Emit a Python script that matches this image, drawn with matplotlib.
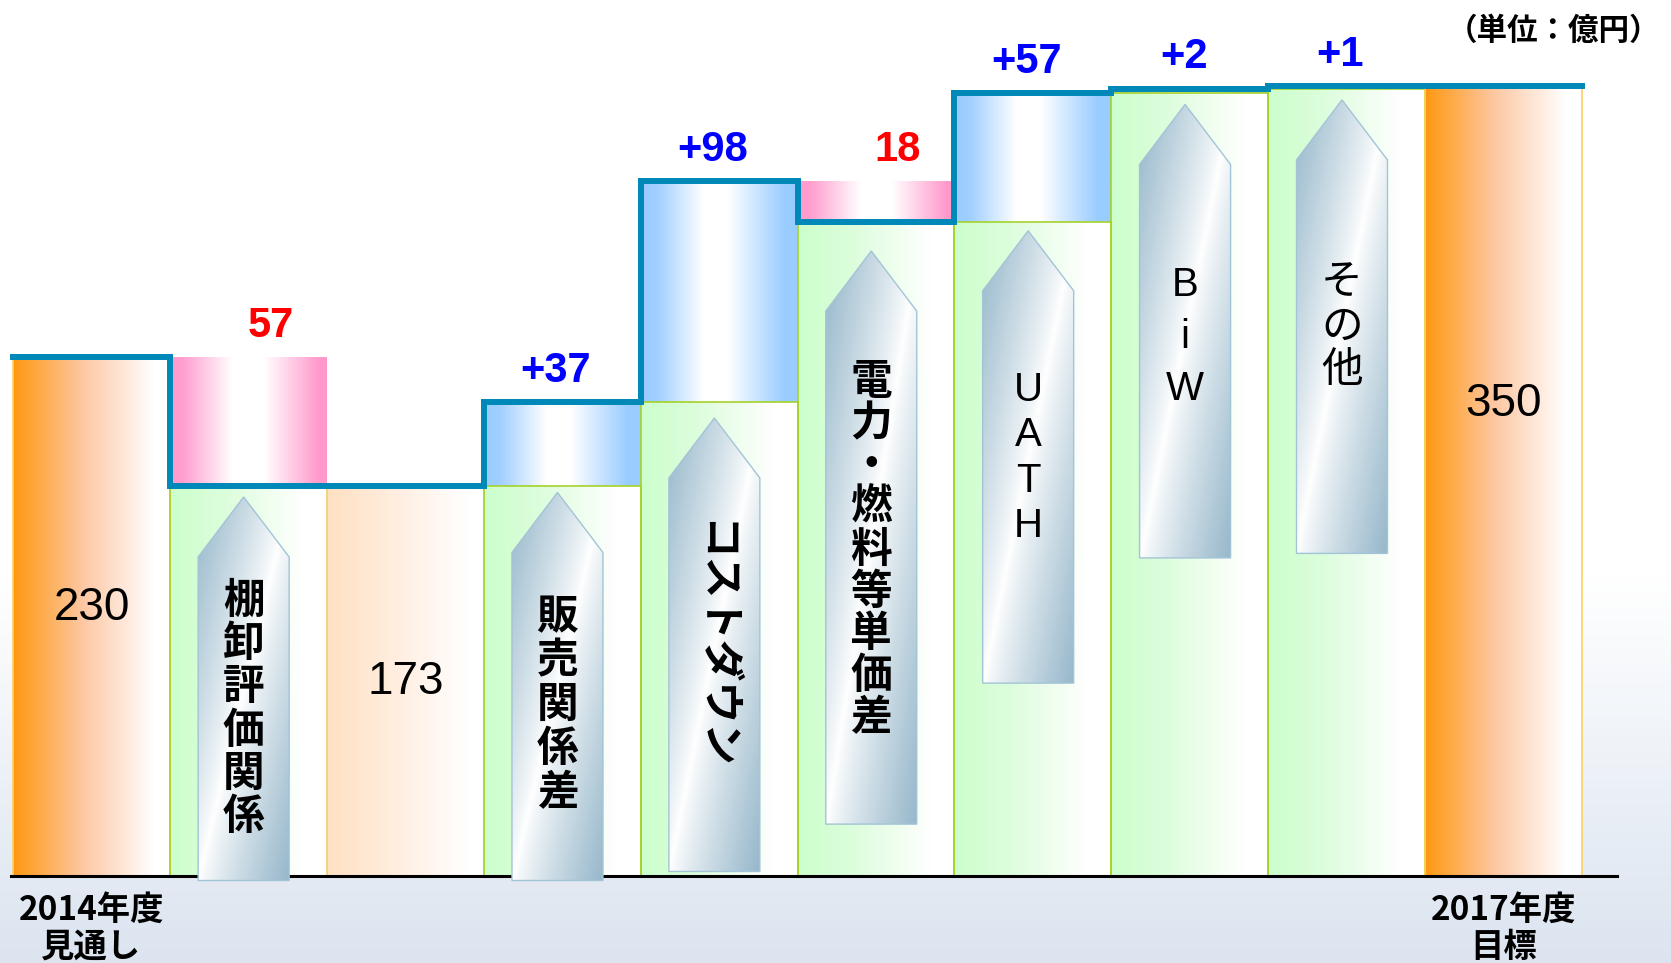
import numpy as np
import matplotlib
matplotlib.use("Agg")
import matplotlib.pyplot as plt
from matplotlib.patches import Polygon, Rectangle
from matplotlib.colors import to_rgb

# chart data (億円)
categories = ["2014年度\n見通し", "棚卸評価関係", "", "販売関係差", "コストダウン",
              "電力・燃料等単価差", "UATH", "BiW", "その他", "2017年度\n目標"]
kinds = ["total", "delta", "total", "delta", "delta", "delta", "delta", "delta", "delta", "total"]
values = [230, -57, 173, 37, 98, -18, 57, 2, 1, 350]
value_labels = ["230", "57", "173", "+37", "+98", "18", "+57", "+2", "+1", "350"]
unit_label = "（単位：億円）"

# layout (data units)
arrow_top = [168, 170, 203, 277, 286, 342, 344]
arrow_bottom = [-2, -2, 2, 23, 85.5, 141, 143]
arrow_text_y = [74, 75.8, 102.4, 144.5, 185.3, 239, 243.4]
arrow_text_weight = ["bold", "bold", "bold", "bold", "normal", "normal", "normal"]
arrow_text_size = [30, 30, 30, 30, 29, 29, 30]
arrow_text_spacing = [1.04, 1.06, 1.0, 1.0, 1.25, 1.46, 1.08]
total_label_y = [121, 88, 211]

CJK = ["Noto Sans CJK JP", "DejaVu Sans"]
LAT = ["Liberation Sans", "DejaVu Sans"]

LINE = "#0088b8"
ORANGE = [(0, "#ff9810"), (0.45, "#fdc8a4"), (0.9, "#ffffff"), (1, "#ffffff")]
PEACH = [(0, "#ffe0c2"), (0.5, "#fff0e4"), (0.9, "#ffffff"), (1, "#ffffff")]
GREEN = [(0, "#ccffcc"), (0.35, "#dcfddc"), (0.85, "#ffffff"), (1, "#ffffff")]
BLUE = [(0, "#99ccff"), (0.1, "#a0cfff"), (0.4, "#ffffff"), (0.55, "#ffffff"), (0.92, "#99ccff"), (1, "#99ccff")]
PINK = [(0, "#ff99cc"), (0.08, "#ff9fcf"), (0.4, "#ffffff"), (0.6, "#ffffff"), (0.95, "#ff99cc"), (1, "#ff99cc")]
ARROW = "#96b7ca"


def grad_colors(stops, n=256):
    t = np.linspace(0, 1, n)
    pos = [s[0] for s in stops]
    cols = np.array([to_rgb(s[1]) for s in stops])
    return np.stack([np.interp(t, pos, cols[:, c]) for c in range(3)], axis=-1)


#horizontal gradient box
def hbox(ax, x0, x1, y0, y1, stops, edge=None, z=1):
    img = grad_colors(stops)[None, :, :]
    ax.imshow(img, extent=(x0, x1, y0, y1), aspect="auto", interpolation="bilinear", zorder=z)
    if edge:
        ax.add_patch(Rectangle((x0, y0), x1 - x0, y1 - y0, fill=False, ec=edge, lw=1.2, zorder=z + 0.1))


#arrow shape with a diagonal gradient
def arrow(ax, xc, top, bottom, z=3):
    hw = 0.29
    sh = top - 26.6
    verts = [(xc - hw, bottom), (xc - hw, sh), (xc, top), (xc + hw, sh), (xc + hw, bottom)]
    poly = Polygon(verts, closed=True, fc="none", ec="#a3c4d6", lw=1.0, zorder=z + 0.1)
    ax.add_patch(poly)
    u = np.linspace(-1, 1, 120)[None, :]
    v = np.linspace(-1, 1, 300)[:, None]
    t = np.clip(np.abs((u + v) / 2), 0, 1) ** 0.85
    blue = np.array(to_rgb(ARROW))
    img = (1 - t[..., None]) * 1.0 + t[..., None] * blue
    im = ax.imshow(img, extent=(xc - hw, xc + hw, bottom, top), aspect="auto",
                   interpolation="bilinear", zorder=z)
    im.set_clip_path(poly)


fig = plt.figure(figsize=(16.71, 9.63), dpi=100)
ax = fig.add_axes([0, 0, 1, 1])
ax.axis("off")

# background
f = np.linspace(0, 1, 200)[:, None]
w = np.clip((f - 0.6) / 0.4, 0, 1)
bottom_col = np.array([0.86, 0.895, 0.94])
bg = (1 - w[..., None]) * 1.0 + w[..., None] * bottom_col
bg = np.repeat(bg, 2, axis=1)
ax.imshow(bg, extent=(0, 1, 0, 1), transform=ax.transAxes, aspect="auto", zorder=0)

# running totals
levels = []
prev = 0
for k, v in zip(kinds, values):
    lvl = v if k == "total" else prev + v
    levels.append(lvl)
    prev = lvl

ai = 0
di = 0
for i, (k, v) in enumerate(zip(kinds, values)):
    x0, x1 = i - 0.5, i + 0.5
    if k == "total":
        stops = PEACH if 0 < i < len(kinds) - 1 else ORANGE
        edge = "#f5d98a" if stops is PEACH else "#ffd060"
        hbox(ax, x0, x1, 0, v, stops, edge=edge)
        ax.text(i, total_label_y[di] - 7.3, value_labels[i], ha="center", va="baseline",
                fontsize=33, family=LAT, color="black", zorder=6)
        di += 1
    else:
        before = levels[i - 1]
        after = levels[i]
        lo, hi = min(before, after), max(before, after)
        hbox(ax, x0, x1, 0, lo, GREEN, edge="#a6d22a")
        hbox(ax, x0, x1, lo, hi, BLUE if v > 0 else PINK)
        xc = i - 0.03
        arrow(ax, xc, arrow_top[ai], arrow_bottom[ai])
        if categories[i] == "コストダウン":
            ax.text(xc, arrow_text_y[ai], categories[i], rotation=-90, ha="center", va="center",
                    fontsize=arrow_text_size[ai], family=CJK, weight=arrow_text_weight[ai], zorder=6)
        else:
            fam = LAT if categories[i].isascii() else CJK
            ax.text(xc, arrow_text_y[ai], "\n".join(categories[i]), ha="center", va="center",
                    fontsize=arrow_text_size[ai], family=fam, weight=arrow_text_weight[ai],
                    linespacing=arrow_text_spacing[ai], zorder=6)
        ai += 1
        dx = 0.14 if v < 0 else -0.04
        ax.text(i + dx, hi + 9, value_labels[i], ha="center", va="baseline", fontsize=30,
                family=LAT, weight="bold", color="blue" if v > 0 else "red", zorder=6)

# baseline and step line
ax.plot([-0.51, 9.72], [0, 0], color="black", lw=2.2, zorder=2)
xs, ys = [], []
for i, lvl in enumerate(levels):
    xs += [i - 0.5, i + 0.5]
    ys += [lvl, lvl]
ax.plot(xs, ys, color=LINE, lw=4.3, solid_capstyle="projecting", solid_joinstyle="miter", zorder=4)

# category labels under the total bars
for i in [0, len(categories) - 1]:
    ax.text(i, -8.0, categories[i], ha="center", va="top", fontsize=24, family=CJK,
            weight="bold", linespacing=1.15, zorder=6)

ax.text(9.32, 374.5, unit_label, ha="center", va="center", fontsize=22, family=CJK,
        weight="bold", zorder=6)

ax.set_xlim(-0.5829, 10.067)
ax.set_ylim(-38.56, 388.3)

fig.savefig("out.png", dpi=100)
